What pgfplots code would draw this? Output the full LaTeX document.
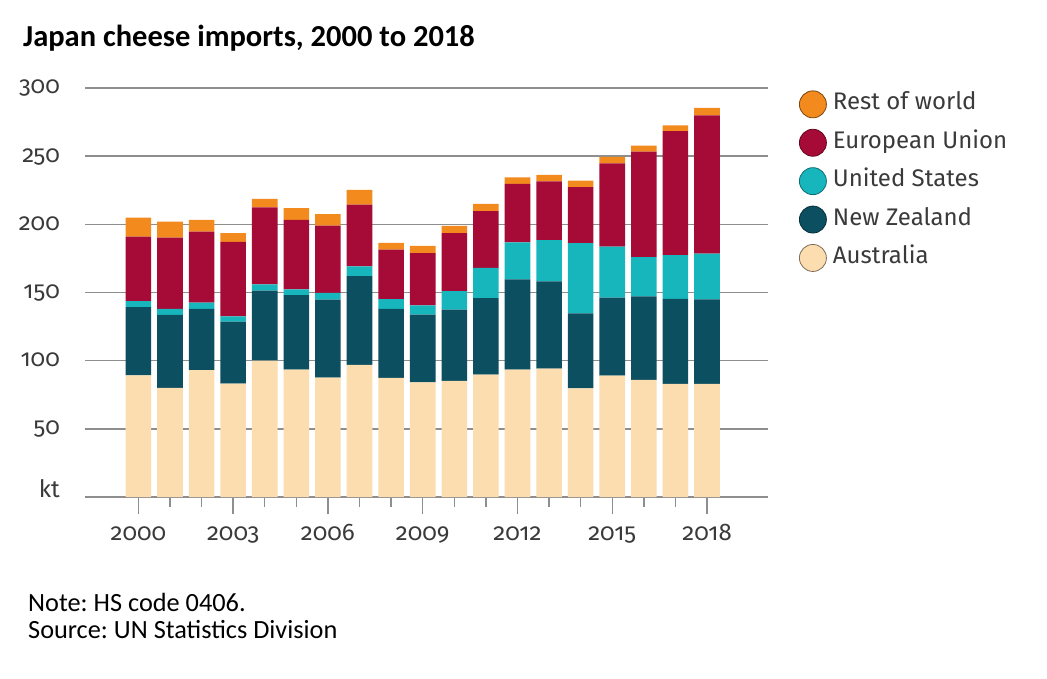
\documentclass[border=0pt]{standalone}
\usepackage{fontspec}
\usepackage{pgfplots}
\usepackage{pgfplotstable}
\pgfplotsset{compat=1.18}
\setmainfont{Carlito}
\frenchspacing
\newfontfamily\axisfont[Numbers=OldStyle]{Fira Sans}
\definecolor{auscol}{HTML}{FBDDB0}
\definecolor{nzcol}{HTML}{0C4F60}
\definecolor{uscol}{HTML}{17B6BD}
\definecolor{eucol}{HTML}{A50B36}
\definecolor{rowcol}{HTML}{F28A1E}
\definecolor{gridcol}{HTML}{8E8E8E}
\definecolor{txtcol}{HTML}{3A3A3A}

\pgfplotstableread{
year aus nz us eu row
2000 89.3 50.0 4.4 47.3 14.0
2001 80.0 53.5 4.4 52.4 11.7
2002 93.0 44.9 4.6 52.2 8.6
2003 83.2 45.4 3.9 54.7 6.3
2004 100.0 51.3 4.6 56.6 6.2
2005 93.5 54.6 4.2 51.0 8.5
2006 87.6 57.1 5.1 49.3 8.3
2007 96.9 65.1 7.1 45.4 10.7
2008 87.4 50.5 7.3 36.3 4.9
2009 84.0 49.7 6.9 38.3 5.3
2010 85.2 52.2 13.6 42.5 5.4
2011 89.8 56.1 22.2 41.5 5.4
2012 93.5 66.1 27.1 42.9 4.9
2013 94.2 63.9 30.3 43.2 4.6
2014 79.6 55.1 51.5 41.0 4.9
2015 89.1 57.1 37.5 61.0 4.7
2016 85.9 61.2 28.8 77.4 4.4
2017 82.9 62.4 32.1 91.0 4.2
2018 82.9 62.0 33.7 101.3 5.6
}\datatable

\begin{document}
\begin{tikzpicture}[x=1pt,y=1pt]
\useasboundingbox (0,0) rectangle (1047,678);
\node[anchor=base west, inner sep=0pt, font=\fontsize{30.5}{36}\selectfont\bfseries] at (23,631) {Japan cheese imports, 2000 to 2018};
\node[anchor=base west, inner sep=0pt, font=\fontsize{26.3}{31}\selectfont] at (28,67) {Note: HS code 0406.};
\node[anchor=base west, inner sep=0pt, font=\fontsize{26.3}{31}\selectfont] at (28,40) {Source: UN Statistics Division};
\begin{axis}[
  at={(85pt,181pt)}, anchor=south west,
  scale only axis, width=683pt, height=409pt,
  ybar stacked, bar width=0.81,
  xmin=1998.31, xmax=2019.93,
  ymin=0, ymax=300,
  axis line style={draw=none},
  ymajorgrids, major grid style={draw=gridcol, line width=1.4pt},
  ytick={0,50,100,150,200,250,300},
  yticklabels={\raisebox{6pt}{kt},50,100,150,200,250,300},
  ytick style={draw=none},
  xtick={2000,2003,2006,2009,2012,2015,2018},
  xticklabels={2000,2003,2006,2009,2012,2015,2018},
  minor xtick={2001,2002,2004,2005,2007,2008,2010,2011,2013,2014,2016,2017},
  xtick pos=bottom, tick align=outside,
  major tick length=17pt, minor tick length=10pt,
  xtick style={draw=gridcol, line width=1.4pt},
  xminorgrids=false, xmajorgrids=false,
  tick label style={font=\axisfont\fontsize{24}{28}\selectfont, text=txtcol},
  xticklabel style={anchor=base, inner sep=0pt, yshift=-26pt},
  yticklabel style={anchor=base east, inner sep=0pt, xshift=-8pt, yshift=-6pt},
  reverse legend,
  legend cell align=left,
  legend style={at={(rel axis cs:1.0454,0.994)}, anchor=north west, draw=none, fill=none,
    inner sep=0pt, outer sep=0pt, row sep=10.6pt,
    font=\axisfont\fontsize{24}{28}\selectfont, text=txtcol,
    nodes={inner sep=0pt, text height=17pt, text depth=6pt}},
]
\addplot[fill=auscol, draw=none, legend image code/.code={\draw[fill=auscol, draw=auscol!50!black, line width=0.8pt] (14pt,0pt) circle (13.5pt); \path (34pt,0pt);}] table[x=year,y=aus]{\datatable};
\addplot[fill=nzcol, draw=none, legend image code/.code={\draw[fill=nzcol, draw=nzcol!60!black, line width=0.8pt] (14pt,0pt) circle (13.5pt); \path (34pt,0pt);}] table[x=year,y=nz]{\datatable};
\addplot[fill=uscol, draw=none, legend image code/.code={\draw[fill=uscol, draw=uscol!60!black, line width=0.8pt] (14pt,0pt) circle (13.5pt); \path (34pt,0pt);}] table[x=year,y=us]{\datatable};
\addplot[fill=eucol, draw=none, legend image code/.code={\draw[fill=eucol, draw=eucol!60!black, line width=0.8pt] (14pt,0pt) circle (13.5pt); \path (34pt,0pt);}] table[x=year,y=eu]{\datatable};
\addplot[fill=rowcol, draw=none, legend image code/.code={\draw[fill=rowcol, draw=rowcol!50!black, line width=0.8pt] (14pt,0pt) circle (13.5pt); \path (34pt,0pt);}] table[x=year,y=row]{\datatable};
\legend{Australia, New Zealand, United States, European Union, Rest of world}
\end{axis}
\end{tikzpicture}
\end{document}
